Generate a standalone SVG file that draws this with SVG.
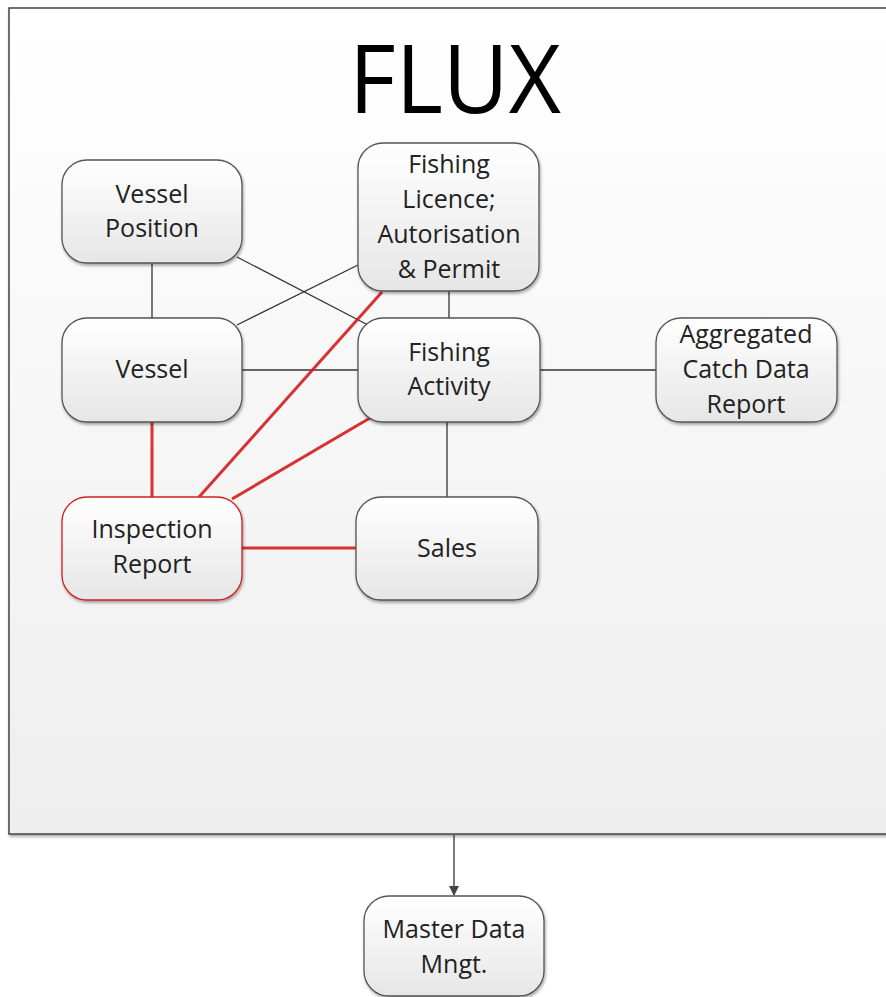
<svg xmlns="http://www.w3.org/2000/svg" width="886" height="997" viewBox="0 0 886 997">
<defs>
<linearGradient id="bg" x1="0" y1="0" x2="0" y2="1">
<stop offset="0" stop-color="#ffffff"/>
<stop offset="1" stop-color="#eeeeee"/>
</linearGradient>
<linearGradient id="ng" x1="0" y1="0" x2="0" y2="1">
<stop offset="0" stop-color="#ffffff"/>
<stop offset="1" stop-color="#e6e6e6"/>
</linearGradient>
<filter id="sh" x="-10%" y="-10%" width="130%" height="130%">
<feGaussianBlur in="SourceAlpha" stdDeviation="1.5"/>
<feOffset dx="1" dy="2" result="b"/>
<feComponentTransfer><feFuncA type="linear" slope="0.35"/></feComponentTransfer>
<feMerge><feMergeNode/><feMergeNode in="SourceGraphic"/></feMerge>
</filter>
<marker id="arr" markerWidth="10" markerHeight="10" refX="9" refY="5" orient="auto" markerUnits="userSpaceOnUse">
<path d="M0,0 L10,5 L0,10 Z" fill="#444"/>
</marker>
</defs>
<style>
.node{fill:url(#ng);stroke:#555;stroke-width:1.3;filter:url(#sh)}
.red{stroke:#d02020}
.t{font-family:"Open Sans","Liberation Sans",sans-serif;font-size:25px;fill:#222;text-anchor:middle}
.ln{stroke:#333;stroke-width:1.3;fill:none}
.rl{stroke:#d41c1c;stroke-width:3;fill:none;stroke-opacity:0.9}
</style>
<rect width="886" height="997" fill="#ffffff"/>
<g id="flux">
<rect x="9" y="8" width="890" height="826" fill="url(#bg)" stroke="#444" stroke-width="1.5" filter="url(#sh)"/>
<text x="455" y="113" font-family="'Open Sans','Liberation Sans',sans-serif" font-size="95" fill="#000" text-anchor="middle" textLength="212" lengthAdjust="spacingAndGlyphs">FLUX</text>
</g>
<g id="connectors">
<line class="ln" x1="152" y1="263" x2="152" y2="318"/>
<line class="ln" x1="237" y1="257" x2="368" y2="325"/>
<line class="ln" x1="237" y1="325" x2="358" y2="265"/>
<line class="ln" x1="449" y1="291" x2="449" y2="318"/>
<line class="ln" x1="242" y1="370" x2="358" y2="370"/>
<line class="ln" x1="540" y1="370" x2="656" y2="370"/>
<line class="ln" x1="447" y1="422" x2="447" y2="497"/>
<line class="rl" x1="152" y1="422" x2="152" y2="497"/>
<line class="rl" x1="199" y1="497" x2="382" y2="292"/>
<line class="rl" x1="232" y1="499" x2="370" y2="418"/>
<line class="rl" x1="242" y1="548" x2="356" y2="548"/>
<line class="ln" x1="454" y1="835" x2="454" y2="895" marker-end="url(#arr)"/>
</g>
<g id="vessel-position">
<rect class="node" x="62" y="160" width="180" height="103" rx="25"/>
<text class="t" x="152" y="203">Vessel</text>
<text class="t" x="152" y="237">Position</text>
</g>
<g id="fishing-licence">
<rect class="node" x="358" y="143" width="181" height="148" rx="25"/>
<text class="t" x="449" y="173">Fishing</text>
<text class="t" x="449" y="208">Licence;</text>
<text class="t" x="449" y="243">Autorisation</text>
<text class="t" x="449" y="278">&amp; Permit</text>
</g>
<g id="vessel">
<rect class="node" x="62" y="318" width="180" height="104" rx="25"/>
<text class="t" x="152" y="378">Vessel</text>
</g>
<g id="fishing-activity">
<rect class="node" x="358" y="318" width="182" height="104" rx="25"/>
<text class="t" x="449" y="361">Fishing</text>
<text class="t" x="449" y="395">Activity</text>
</g>
<g id="aggregated">
<rect class="node" x="656" y="318" width="181" height="104" rx="25"/>
<text class="t" x="746" y="343">Aggregated</text>
<text class="t" x="746" y="378">Catch Data</text>
<text class="t" x="746" y="413">Report</text>
</g>
<g id="inspection-report">
<rect class="node red" x="62" y="497" width="180" height="103" rx="25"/>
<text class="t" x="152" y="538">Inspection</text>
<text class="t" x="152" y="573">Report</text>
</g>
<g id="sales">
<rect class="node" x="356" y="497" width="182" height="103" rx="25"/>
<text class="t" x="447" y="557">Sales</text>
</g>
<g id="master-data">
<rect class="node" x="364" y="896" width="180" height="100" rx="25"/>
<text class="t" x="454" y="938">Master Data</text>
<text class="t" x="454" y="973">Mngt.</text>
</g>
</svg>
